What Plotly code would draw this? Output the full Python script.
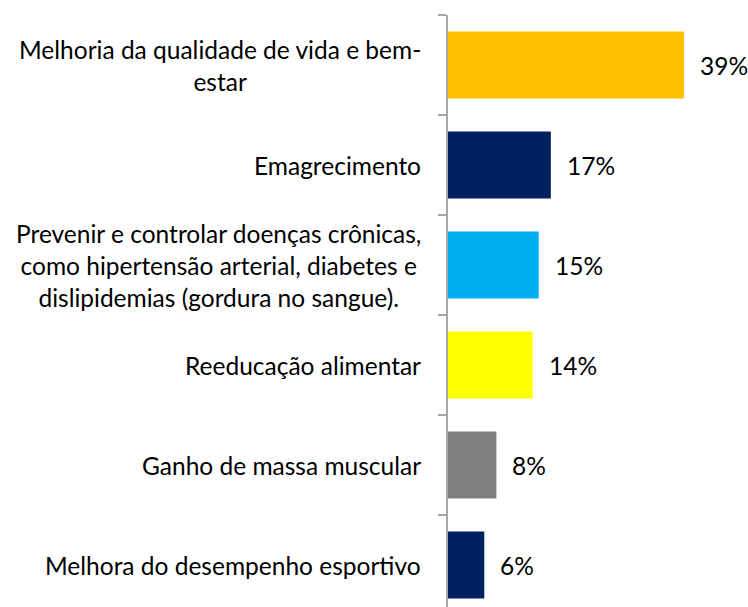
import plotly.graph_objects as go

categories = [
    "Melhoria da qualidade de vida e bem-<br>estar",
    "Emagrecimento",
    "Prevenir e controlar doenças crônicas,<br>como hipertensão arterial, diabetes e<br>dislipidemias (gordura no sangue).",
    "Reeducação alimentar",
    "Ganho de massa muscular",
    "Melhora do desempenho esportivo",
]
values = [39, 17, 15, 14, 8, 6]
value_labels = ["39%", "17%", "15%", "14%", "8%", "6%"]
colors = ["#FFC000", "#002060", "#00B0F0", "#FFFF00", "#808080", "#002060"]

FONT = "Lato"
FS = 24.5

fig = go.Figure(go.Bar(
    x=values, y=categories, orientation="h",
    marker=dict(color=colors, line=dict(width=0)),
    width=0.67, hoverinfo="skip",
))

for c, v, t in zip(categories, values, value_labels):
    fig.add_annotation(x=v, y=c, xref="x", yref="y", text=t, showarrow=False,
                       xanchor="left", xshift=14, font=dict(family=FONT, size=FS, color="#000000"))
    fig.add_annotation(x=0, y=c, xref="paper", yref="y", text=c, showarrow=False,
                       xanchor="right", xshift=-25, align="center",
                       font=dict(family=FONT, size=FS, color="#000000"))

fig.update_layout(
    width=748, height=607,
    margin=dict(l=448, r=0, t=15, b=0),
    paper_bgcolor="white", plot_bgcolor="white",
    showlegend=False,
    xaxis=dict(range=[0, 49.6], visible=False, fixedrange=True),
    yaxis=dict(
        type="category", categoryorder="array", categoryarray=categories,
        range=[5.42, -0.5], showticklabels=False, showgrid=False, zeroline=False,
        showline=True, linecolor="#A6A6A6", linewidth=1.5,
        ticks="outside", tickson="boundaries", ticklen=8, tickcolor="#A6A6A6", tickwidth=1.5,
    ),
)

fig.write_html(
    "out.html",
    config={"displayModeBar": False},
    post_script="document.body.style.margin='0';document.body.style.overflow='hidden';",
)
